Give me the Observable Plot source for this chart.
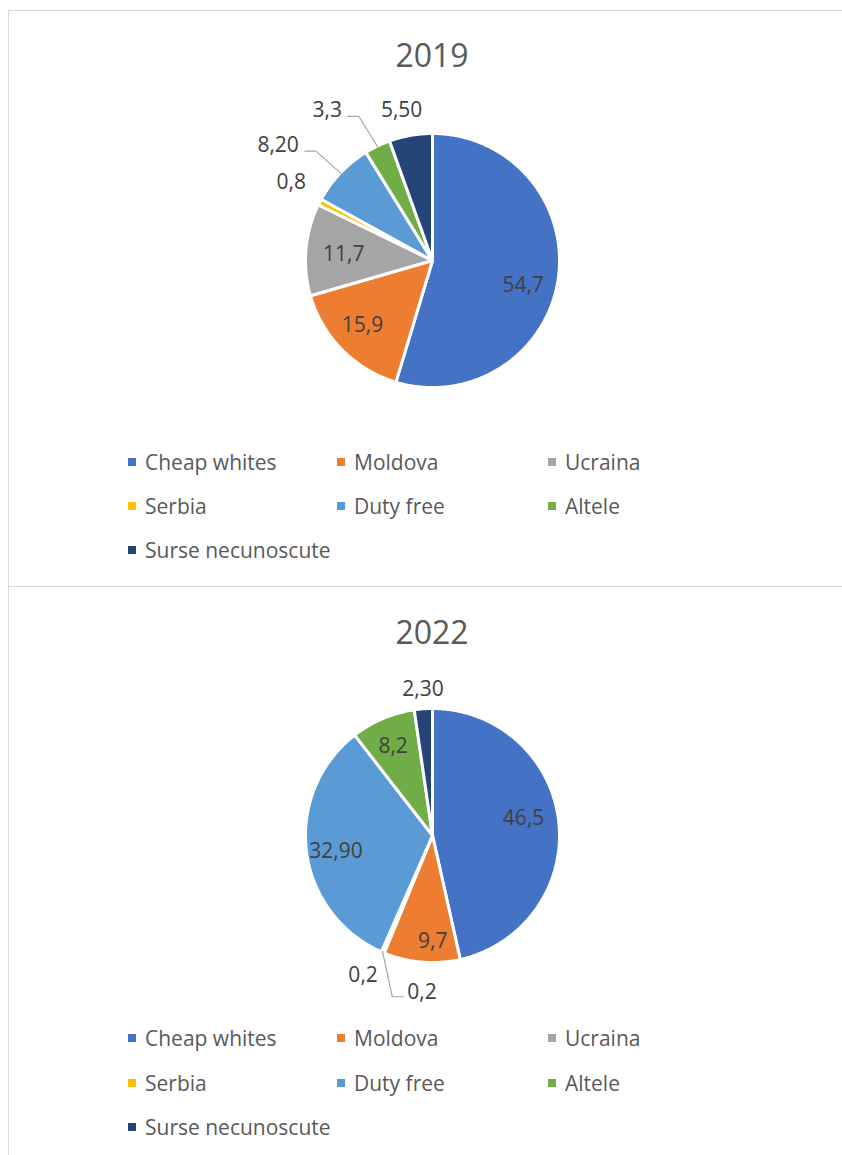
<!DOCTYPE html>
<html><head><meta charset="utf-8">
<script src="https://cdn.jsdelivr.net/npm/d3@7"></script>
<script src="https://cdn.jsdelivr.net/npm/@observablehq/plot@0.6"></script>
<style>
body{margin:0;background:#fff;font-family:"Open Sans",sans-serif;}
#page{position:relative;width:842px;height:1155px;overflow:hidden;background:#fff;}
.box{position:absolute;left:8px;width:900px;border:1.5px solid #d9d9d9;box-sizing:border-box;}
.title{position:absolute;left:0;width:864px;text-align:center;font-size:32px;color:#595959;line-height:40px;}
.leg{position:absolute;display:flex;align-items:center;font-size:21px;color:#595959;line-height:30px;white-space:nowrap;}
.sw{width:8px;height:8px;margin-right:9px;flex:none;}
.plot{position:absolute;left:0;}
</style></head><body><div id="page"></div>
<script>
// ---- data ----
const categories = ["Cheap whites","Moldova","Ucraina","Serbia","Duty free","Altele","Surse necunoscute"];
const colors = ["#4472C4","#ED7D31","#A5A5A5","#FFC000","#5B9BD5","#70AD47","#264478"];
const years = ["2019","2022"];
const values2019 = [54.7,15.9,11.7,0.8,8.2,3.3,5.5];
const labels2019 = ["54,7","15,9","11,7","0,8","8,20","3,3","5,50"];
const values2022 = [46.5,9.7,0.2,0.2,32.9,8.2,2.3];
const labels2022 = ["46,5","9,7","0,2","0,2","32,90","8,2","2,30"];

// ---- layout ----
const R = 127;
const charts = [
  {year: years[0], values: values2019, labels: labels2019, boxTop: 10, boxH: 577, titleY: 55, cy: 260, legY: 462, legStep: 44,
   place: [{da:7,k:.74,a:"middle"},{da:2,k:.75,a:"middle"},{da:-1,k:.70,a:"middle"},{da:1.4,k:1.27,a:"middle"},
           {da:-2.8,k:1.39,a:"end",leader:true},{da:-5.4,k:1.38,a:"end",leader:true},{da:-1.7,k:1.21,a:"middle"}]},
  {year: years[1], values: values2022, labels: labels2022, boxTop: 586, boxH: 600, titleY: 632, cy: 835, legY: 1038, legStep: 44.5,
   place: [{da:-4.4,k:.73,a:"middle"},{da:-5,k:.83,a:"middle"},{da:3.7,k:1.23,a:"middle"},{da:-14.3,k:1.254,a:"start",leader:true},
           {da:-2,k:.77,a:"middle"},{da:-0.7,k:.77,a:"middle"},{da:0.4,k:1.153,a:"middle"}]}
];
const legCols = [128, 337, 548];
const page = document.getElementById("page");
const rad = d => d * Math.PI / 180;

charts.forEach(ch => {
  const box = document.createElement("div");
  box.className = "box"; box.style.top = ch.boxTop + "px"; box.style.height = ch.boxH + "px";
  page.appendChild(box);

  const t = document.createElement("div");
  t.className = "title"; t.textContent = ch.year; t.style.top = (ch.titleY - 20) + "px";
  page.appendChild(t);

  const data = categories.map((c, i) => ({cat: c, value: ch.values[i], label: ch.labels[i]}));
  const arcs = d3.pie().sort(null).value(d => d.value)(data);
  const poly = [], texts = [], leaders = [];
  arcs.forEach((a, i) => {
    const n = Math.max(2, Math.ceil((a.endAngle - a.startAngle) / 0.01));
    poly.push({cat: a.data.cat, x: 0, y: 0});
    for (let j = 0; j <= n; j++) {
      const th = a.startAngle + (a.endAngle - a.startAngle) * j / n;
      poly.push({cat: a.data.cat, x: R * Math.sin(th), y: R * Math.cos(th)});
    }
    const mid = (a.startAngle + a.endAngle) / 2;
    const p = ch.place[i];
    const th = mid + rad(p.da);
    const lx = p.k * R * Math.sin(th), ly = p.k * R * Math.cos(th);
    texts.push({x: lx, y: ly, text: a.data.label, anchor: p.a});
    if (p.leader) {
      const ex = (R - 1) * Math.sin(mid), ey = (R - 1) * Math.cos(mid);
      if (p.a === "end") {
        leaders.push({id: i, x: lx + 6, y: ly - 6}, {id: i, x: lx + 17, y: ly - 6}, {id: i, x: ex, y: ey});
      } else {
        leaders.push({id: i, x: lx - 4, y: ly - 4}, {id: i, x: lx - 15, y: ly - 4}, {id: i, x: ex, y: ey});
      }
    }
  });

  const H = 340;
  const txt = anchor => Plot.text(texts.filter(d => d.anchor === anchor), {
    x: "x", y: "y", text: "text", textAnchor: anchor, fill: "#404040", fontSize: 21
  });
  const svg = Plot.plot({
    width: 842, height: H, margin: 0,
    x: {domain: [-432, 410], axis: null},
    y: {domain: [-H / 2, H / 2], axis: null},
    color: {domain: categories, range: colors},
    style: {fontFamily: "'Open Sans', sans-serif", background: "transparent", overflow: "visible"},
    marks: [
      Plot.line(poly, {x: "x", y: "y", z: "cat", fill: "cat", stroke: "white", strokeWidth: 3, curve: "linear-closed", strokeLinejoin: "miter"}),
      Plot.line(leaders, {x: "x", y: "y", z: "id", stroke: "#a6a6a6", strokeWidth: 1.2}),
      txt("middle"), txt("start"), txt("end")
    ]
  });
  const wrap = document.createElement("div");
  wrap.className = "plot"; wrap.style.top = (ch.cy - H / 2) + "px";
  wrap.appendChild(svg);
  page.appendChild(wrap);

  categories.forEach((c, i) => {
    const row = Math.floor(i / 3), col = i % 3;
    const it = document.createElement("div");
    it.className = "leg";
    it.style.left = legCols[col] + "px";
    it.style.top = (ch.legY + row * ch.legStep - 15) + "px";
    const sw = document.createElement("span");
    sw.className = "sw"; sw.style.background = colors[i];
    const tx = document.createElement("span"); tx.textContent = c;
    it.appendChild(sw); it.appendChild(tx);
    page.appendChild(it);
  });
});
</script></body></html>
